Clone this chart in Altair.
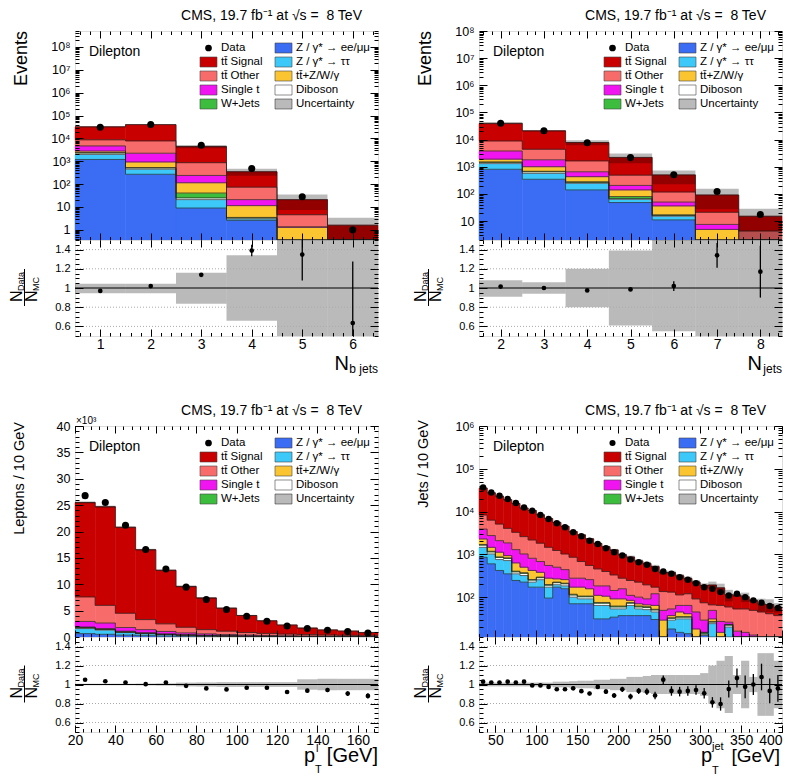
import altair as alt
import numpy as np
import pandas as pd

FONT = "Liberation Sans"
W = 303
HM_TOP, HR_TOP = 209, 96
HM_BOT, HR_BOT = 211, 95
ROW_GAP = 90

# stack order from bottom to top
LAYERS = ["Z/γ* → ee/μμ", "Z/γ* → ττ", "Diboson", "W+Jets", "tt̄+Z/W/γ", "Single t", "tt̄ Other", "tt̄ Signal"]
COLORS = ["#3a6cf4", "#3cc8f8", "#ffffff", "#3dbd3d", "#fbc531", "#f014f0", "#f86b6b", "#c80000"]

LEG_LABELS = ["Data", "tt̄ Signal", "tt̄ Other", "Single t", "W+Jets",
              "Z / γ* → ee/μμ", "Z / γ* → ττ", "tt̄+Z/W/γ", "Diboson", "Uncertainty"]
LEG_FILLS = ["#000000", "#c80000", "#f86b6b", "#f014f0", "#3dbd3d",
             "#3a6cf4", "#3cc8f8", "#fbc531", "#ffffff", "#ffffff"]
LEG_KIND = ["dot", "box", "box", "box", "box", "box", "box", "box", "box", "hatch"]
LEG_COL = [0, 0, 0, 0, 0, 1, 1, 1, 1, 1]
LEG_ROW = [0, 1, 2, 3, 4, 0, 1, 2, 3, 4]

TITLE = "CMS, 19.7 fb⁻¹ at √s =\u00a0 8 TeV"

# ---------------- Panel A: N_b jets (cumulative stack tops) ----------------
A_centers = [1, 2, 3, 4, 5, 6]
A_zll = [1200, 270, 9, 2.6, 0, 0]
A_ztt = [2000, 450, 21, 3.0, 0, 0]
A_dib = [2300, 510, 25, 3.3, 0, 0]
A_wjets = [2400, 530, 41, 3.5, 0, 0]
A_ttv = [2800, 930, 115, 11.5, 1.3, 0]
A_singlet = [4700, 2250, 240, 21, 1.35, 0]
A_ttother = [8700, 7800, 870, 74, 4.6, 0]
A_ttsig = [32000, 40000, 4400, 350, 21, 1.6]
A_data = [31000, 40500, 5000, 487, 28, 1.0]
A_ratio = [0.97, 1.02, 1.137, 1.39, 1.348, 0.635]
A_rerr = [0.006, 0.006, 0.012, 0.06, 0.27, 0.64]
A_unc_dn = [0.957, 0.957, 0.842, 0.66, 0.35, 0.05]
A_unc_up = [1.054, 1.054, 1.165, 1.34, 1.66, 2.1]

# ---------------- Panel B: N_jets ----------------
B_centers = [2, 3, 4, 5, 6, 7, 8]
B_zll = [806, 345, 140, 48, 11, 0, 0]
B_ztt = [1300, 570, 245, 63, 15, 0, 0]
B_dib = [1450, 650, 265, 68, 16, 0, 0]
B_wjets = [1500, 680, 280, 80, 17, 0, 0]
B_ttv = [1900, 1000, 430, 140, 36, 4.9, 0]
B_singlet = [3800, 1800, 650, 205, 50, 7.5, 0]
B_ttother = [8900, 4400, 1640, 490, 117, 21, 4.3]
B_ttsig = [39500, 21000, 7800, 2200, 500, 91, 15]
B_data = [40100, 21000, 7600, 2170, 510, 122, 17.5]
B_ratio = [1.015, 1.0, 0.975, 0.985, 1.02, 1.34, 1.17]
B_rerr = [0.005, 0.006, 0.01, 0.015, 0.05, 0.13, 0.27]
B_unc_dn = [0.92, 0.94, 0.8, 0.61, 0.45, 0.3, 0.1]
B_unc_up = [1.09, 1.06, 1.2, 1.39, 1.45, 1.7, 1.9]

# ---------------- Panel C: lepton pT (x10^3 leptons / 10 GeV) ----------------
C_centers = [25, 35, 45, 55, 65, 75, 85, 95, 105, 115, 125, 135, 145, 155, 165]
C_zll = [0.64, 0.51, 0.36, 0.25, 0.18, 0.13, 0.09, 0.07, 0.05, 0.04, 0.03, 0.02, 0.02, 0.015, 0.01]
C_ztt = [1.6, 1.3, 0.85, 0.6, 0.42, 0.3, 0.22, 0.16, 0.12, 0.09, 0.07, 0.05, 0.04, 0.03, 0.02]
C_dib = [1.75, 1.42, 0.95, 0.68, 0.48, 0.35, 0.26, 0.19, 0.14, 0.11, 0.085, 0.06, 0.05, 0.04, 0.03]
C_wjets = [1.8, 1.46, 0.98, 0.7, 0.5, 0.36, 0.27, 0.2, 0.15, 0.115, 0.09, 0.065, 0.055, 0.045, 0.033]
C_ttv = [1.9, 1.6, 1.1, 0.82, 0.6, 0.44, 0.33, 0.25, 0.19, 0.15, 0.12, 0.09, 0.075, 0.06, 0.045]
C_singlet = [2.95, 2.65, 1.8, 1.4, 1.05, 0.78, 0.6, 0.47, 0.37, 0.3, 0.24, 0.19, 0.15, 0.12, 0.1]
C_ttother = [7.6, 6.0, 4.5, 3.3, 2.5, 1.85, 1.4, 1.1, 0.85, 0.68, 0.55, 0.45, 0.37, 0.31, 0.25]
C_ttsig = [25.5, 24.7, 20.8, 16.55, 12.65, 9.58, 7.4, 5.47, 4.08, 3.08, 2.28, 1.70, 1.35, 1.13, 0.86]
C_data = [26.8, 25.5, 21.2, 16.6, 12.9, 9.45, 7.1, 5.2, 3.94, 2.98, 2.1, 1.59, 1.27, 1.02, 0.76]
C_ratio = [1.05, 1.034, 1.02, 1.003, 1.02, 0.986, 0.959, 0.948, 0.966, 0.966, 0.921, 0.935, 0.942, 0.904, 0.88]
C_rerr = [0.007, 0.007, 0.007, 0.008, 0.009, 0.01, 0.011, 0.012, 0.014, 0.016, 0.018, 0.02, 0.022, 0.025, 0.028]
C_unc = [0.008, 0.008, 0.008, 0.01, 0.012, 0.02, 0.022, 0.025, 0.025, 0.025, 0.025, 0.055, 0.06, 0.06, 0.06]

# ---------------- Panel D: jet pT ----------------
D_centers = [35, 45, 55, 65, 75, 85, 95, 105, 115, 125, 135, 145, 155, 165, 175, 185, 195, 205, 215,
             225, 235, 245, 255, 265, 275, 285, 295, 305, 315, 325, 335, 345, 355, 365, 375, 385, 395]
D_zll = [855, 600, 420, 350, 245, 224, 171, 171, 95, 171, 157, 70, 70, 70, 31, 31, 34, 37, 37, 37,
         37, 30, 0, 18, 15, 14, 0, 13, 0, 0, 0, 0, 0, 0, 0, 0, 0]
D_ztt = [1460, 1020, 755, 715, 350, 320, 224, 255, 171, 195, 183, 100, 91, 91, 64, 64, 53, 53, 64, 53,
         51, 45, 0, 29, 31, 31, 0, 13, 24, 0, 20, 0, 0, 0, 0, 0, 0]
D_dib = [1640, 1140, 845, 800, 390, 360, 250, 285, 190, 218, 205, 112, 102, 102, 72, 72, 59, 59, 72, 59,
         57, 50, 0, 32, 34, 34, 0, 14, 26, 0, 22, 0, 0, 0, 0, 0, 0]
D_wjets = [1700, 1180, 875, 830, 405, 372, 258, 295, 197, 225, 212, 117, 106, 106, 75, 75, 62, 62, 75, 62,
           60, 52, 0, 33, 35, 35, 0, 15, 27, 0, 23, 0, 0, 0, 0, 0, 0]
D_ttv = [2290, 1460, 1120, 935, 630, 500, 420, 380, 277, 267, 257, 171, 171, 157, 110, 105, 91, 91, 84, 70,
         66, 64, 29, 37, 45, 41, 18, 15, 31, 15, 23, 0, 0, 0, 0, 0, 0]
D_singlet = [3900, 2750, 2090, 1850, 1290, 1020, 810, 680, 550, 500, 440, 277, 277, 257, 183, 183, 143, 157, 110, 100,
             91, 120, 49, 53, 64, 64, 45, 29, 49, 27, 26, 16, 15, 13, 0, 0, 0]
D_ttother = [8300, 6300, 5100, 4050, 3270, 2600, 2170, 1820, 1460, 1230, 1020, 855, 680, 550, 457, 397, 330, 277, 245, 224,
             194, 171, 135, 131, 113, 120, 91, 74, 66, 64, 59, 53, 53, 49, 45, 41, 37]
D_ttsig = [35500, 27450, 22900, 19000, 15500, 12100, 10600, 8400, 6870, 5580, 4530, 3400, 2850, 2310, 1795, 1503, 1267, 985, 865, 703,
           614, 517, 378, 376, 316, 273, 225, 188, 192, 165, 114, 112, 102, 84, 69, 67, 58]
D_data = [36600, 28000, 23400, 19600, 15800, 12500, 10500, 8300, 6700, 5300, 4300, 3270, 2650, 2090, 1750, 1390, 1120, 935, 755, 655,
          568, 457, 397, 350, 292, 254, 212, 171, 156, 131, 109, 120, 100, 84, 74, 62, 56]
D_ratio = [1.03, 1.02, 1.02, 1.03, 1.02, 1.03, 0.99, 0.99, 0.975, 0.95, 0.95, 0.96, 0.93, 0.905, 0.975, 0.925, 0.884, 0.949, 0.873, 0.932,
           0.925, 0.884, 1.051, 0.932, 0.925, 0.932, 0.942, 0.908, 0.812, 0.795, 0.952, 1.068, 0.976, 1.0, 1.079, 0.932, 0.959]
D_rerr = [0.006, 0.006, 0.006, 0.007, 0.008, 0.009, 0.01, 0.011, 0.012, 0.013, 0.015, 0.017, 0.018, 0.02, 0.022, 0.024, 0.026, 0.028, 0.03, 0.032,
          0.035, 0.04, 0.045, 0.05, 0.05, 0.05, 0.05, 0.055, 0.055, 0.07, 0.09, 0.1, 0.12, 0.11, 0.14, 0.13, 0.14]
D_unc = [0.02, 0.02, 0.02, 0.02, 0.02, 0.02, 0.02, 0.02, 0.02, 0.03, 0.03, 0.035, 0.04, 0.04, 0.05, 0.05, 0.06, 0.06, 0.08, 0.08,
         0.09, 0.1, 0.1, 0.1, 0.1, 0.1, 0.1, 0.12, 0.2, 0.25, 0.3, 0.1, 0.25, 0.08, 0.33, 0.33, 0.25]

SUP = "['⁰','¹','²','³','⁴','⁵','⁶','⁷','⁸','⁹']"
LOG_LABELS = ("datum.value < 5 ? '1' : (datum.value < 50 ? '10' : '10' + " + SUP +
              "[round(log(datum.value)/LN10)])")

ONE = alt.Data(values=[{}])
HATCH_OPACITY = 0.27


def log_minor(lo, hi):
    vals = []
    for e in range(-2, 10):
        for m in range(2, 10):
            v = m * 10.0 ** e
            if lo <= v <= hi:
                vals.append(v)
    return vals


def lin_ticks(lo, hi, step):
    k0 = int(np.ceil(lo / step - 1e-9))
    k1 = int(np.floor(hi / step + 1e-9))
    return [round(k * step, 6) for k in range(k0, k1 + 1)]


def txt(text, x, y, size, align="left", baseline="alphabetic", angle=0, color="black"):
    kw = dict(text=text, align=align, baseline=baseline, fontSize=size, font=FONT, color=color)
    if angle:
        kw["angle"] = angle
    return alt.Chart(ONE).mark_text(**kw).encode(x=alt.value(x), y=alt.value(y))


def tick_axis(orient, vals, size):
    return alt.Axis(orient=orient, values=vals, labels=False, ticks=True, tickSize=size, offset=-size,
                    domain=False, grid=False, title=None, tickColor="black", tickWidth=1, zindex=2)


def tick_layers(df, xf, yf, xscale, yscale, xmaj, xmin, ymaj, ymin, xs=7, ys=8):
    out = []
    for xo, xv, xl, yo, yv, yl in [("top", xmaj, xs, "right", ymaj, ys),
                                   ("top", xmin, xs / 2, "right", ymin, ys / 2),
                                   ("bottom", xmin, xs / 2, "left", ymin, ys / 2)]:
        out.append(alt.Chart(df).mark_point(opacity=0).encode(
            x=alt.X(xf, type="quantitative", scale=xscale, axis=tick_axis(xo, xv, xl), title=None),
            y=alt.Y(yf, type="quantitative", scale=yscale, axis=tick_axis(yo, yv, yl), title=None)))
    return out


def legend_layers(dot_size):
    df = pd.DataFrame({"label": LEG_LABELS, "fill": LEG_FILLS, "kind": LEG_KIND,
                       "col": LEG_COL, "row": LEG_ROW})
    base = alt.Chart(df).transform_calculate(
        lx="125 + 75 * datum.col", ly="17 + 14 * datum.row"
    ).transform_calculate(
        lx2="datum.lx + 17", ly1="datum.ly - 5", ly2="datum.ly + 5",
        tx="datum.lx + 21", cx="datum.lx + 8.5")
    px = lambda f: alt.X(f, type="quantitative", scale=None, axis=None)
    py = lambda f: alt.Y(f, type="quantitative", scale=None, axis=None)
    boxes = base.transform_filter("datum.kind != 'dot'").mark_rect(
        stroke="#444", strokeWidth=0.6).encode(
        x=px("lx"), x2="lx2:Q", y=py("ly1"), y2="ly2:Q", fill=alt.Fill("fill:N", scale=None))
    hatch = base.transform_filter("datum.kind == 'hatch'").mark_rect(
        color="black", opacity=HATCH_OPACITY).encode(x=px("lx"), x2="lx2:Q", y=py("ly1"), y2="ly2:Q")
    dot = base.transform_filter("datum.kind == 'dot'").mark_circle(
        size=dot_size, color="black", opacity=1).encode(x=px("cx"), y=py("ly"))
    labels = base.mark_text(align="left", baseline="middle", fontSize=11.5, font=FONT,
                            color="black").encode(x=px("tx"), y=py("ly"), text="label:N")
    return [boxes, hatch, dot, labels]


def make_panel(centers, halfw, tops, data, ratio, rerr, unc_dn, unc_up, cfg):
    HM, HR = cfg["hm"], cfg["hr"]
    n = len(centers)
    x0 = [c - halfw for c in centers]
    x1 = [c + halfw for c in centers]
    floor = cfg["floor"]
    srows, lrows = [], []
    prev = np.full(n, floor, dtype=float)
    for name, top in zip(LAYERS, tops):
        t = np.maximum(np.maximum(np.array(top, dtype=float), floor), prev)
        for i in range(n):
            srows.append({"x0": x0[i], "x1": x1[i], "layer": name, "lo": prev[i], "hi": t[i]})
            lrows.append({"x": x0[i], "y": t[i], "layer": name})
        lrows.append({"x": x1[-1], "y": t[-1], "layer": name})
        prev = t
    total = prev
    df_stack = pd.DataFrame(srows)
    df_line = pd.DataFrame(lrows)
    up = np.array(unc_up)
    dn = np.array(unc_dn)
    df_bins = pd.DataFrame({
        "c": centers, "x0": x0, "x1": x1, "data": data,
        "blo": np.maximum(total * dn, floor), "bhi": total * up,
        "ratio": ratio,
        "elo": np.array(ratio) - np.array(rerr), "ehi": np.array(ratio) + np.array(rerr),
        "rlo": 1 - (up - 1), "rhi": 1 + (1 - dn)})

    xscale = alt.Scale(domain=cfg["xdom"], nice=False, zero=False)
    if cfg["log"]:
        yscale = alt.Scale(type="log", domain=cfg["ydom"], clamp=True, nice=False)
        ylab = LOG_LABELS
        yminor = log_minor(*cfg["ydom"])
    else:
        yscale = alt.Scale(domain=cfg["ydom"], clamp=True, nice=False, zero=True)
        ylab = "datum.label"
        yminor = lin_ticks(cfg["ydom"][0], cfg["ydom"][1], cfg["yminor"])
    xminor = lin_ticks(cfg["xdom"][0], cfg["xdom"][1], cfg["xminor"])

    xaxis_main = alt.Axis(orient="bottom", values=cfg["xticks"], labels=False, ticks=True, tickSize=7,
                          offset=-7, domain=False, grid=False, title=None, tickColor="black", zindex=2)
    yaxis_main = alt.Axis(orient="left", values=cfg["yticks"], labelExpr=ylab, tickSize=8, offset=-8,
                          labelPadding=5, domain=False, grid=False, title=None, labelFontSize=12.5,
                          tickColor="black", labelColor="black", labelFont=FONT, zindex=2)

    X = lambda f, ax=None: alt.X(f, type="quantitative", scale=xscale, axis=ax, title=None)
    Y = lambda f, ax=None: alt.Y(f, type="quantitative", scale=yscale, axis=ax, title=None)
    cscale = alt.Scale(domain=LAYERS, range=COLORS)

    rects = alt.Chart(df_stack).mark_rect(strokeWidth=0.5).encode(
        x=X("x0", xaxis_main), x2="x1:Q", y=Y("hi", yaxis_main), y2="lo:Q",
        color=alt.Color("layer:N", scale=cscale, legend=None),
        stroke=alt.Stroke("layer:N", scale=cscale, legend=None))
    lines = alt.Chart(df_line).mark_line(interpolate="step-after", color="#222",
                                         strokeWidth=0.7).encode(
        x=X("x"), y=Y("y"), detail="layer:N")
    band = alt.Chart(df_bins).mark_rect(color="black", opacity=HATCH_OPACITY).encode(
        x=X("x0"), x2="x1:Q", y=Y("bhi"), y2="blo:Q")
    pts = alt.Chart(df_bins).mark_circle(size=cfg["dot"], color="black", opacity=1).encode(
        x=X("c"), y=Y("data"))
    mticks = tick_layers(df_bins, "c", "data", xscale, yscale, cfg["xticks"], xminor,
                         cfg["yticks"], yminor)

    ann = [txt(TITLE, W - 16, -11, 14, align="right"),
           txt("Dilepton", 14, 25, 14),
           txt(cfg["ytitle"], -62, cfg["ytitle_y"], cfg["ytitle_size"], align="right",
               baseline="top", angle=270)]
    if cfg.get("mult"):
        ann.append(txt("×10³", 1, -2, 10))
    main = alt.layer(rects, lines, band, pts, *mticks, *legend_layers(cfg["dot"] - 5), *ann).properties(
        width=W, height=HM).resolve_axis(x="independent", y="independent")

    # ---- ratio panel ----
    rscale = alt.Scale(domain=[0.5, 1.5], nice=False, zero=False)
    xaxis_r = alt.Axis(orient="bottom", values=cfg["xticks"], labels=True, ticks=True, tickSize=7,
                       offset=-7, labelPadding=1, domain=False, grid=False, title=None, labelFontSize=14,
                       tickColor="black", labelColor="black", labelFont=FONT,
                       labelFlush=cfg.get("flush", False), format="d", zindex=2)
    yaxis_r = alt.Axis(orient="left", values=[0.6, 0.8, 1.0, 1.2, 1.4], format="~g", tickSize=8, offset=-8,
                       labelPadding=5, domain=False, grid=False, title=None, labelFontSize=11,
                       tickColor="black", labelColor="black", labelFont=FONT, zindex=2)
    RX = lambda f, ax=None: alt.X(f, type="quantitative", scale=xscale, axis=ax, title=None)
    RY = lambda f, ax=None: alt.Y(f, type="quantitative", scale=rscale, axis=ax, title=None)

    grid = alt.Chart(pd.DataFrame({"g": [0.6, 0.8, 1.2, 1.4]})).mark_rule(
        color="#aaaaaa", strokeDash=[1, 2], strokeWidth=1).encode(y=RY("g"))
    rband = alt.Chart(df_bins).mark_rect(color="black", opacity=HATCH_OPACITY, clip=True).encode(
        x=RX("x0", xaxis_r), x2="x1:Q", y=RY("rhi", yaxis_r), y2="rlo:Q")
    one = alt.Chart(pd.DataFrame({"g": [1.0]})).mark_rule(color="black", strokeWidth=1).encode(
        y=RY("g"))
    ebars = alt.Chart(df_bins).mark_rule(color="black", strokeWidth=1.3, clip=True).encode(
        x=RX("c"), y=RY("elo"), y2="ehi:Q")
    rpts = alt.Chart(df_bins).mark_circle(size=22, color="black", opacity=1, clip=True).encode(
        x=RX("c"), y=RY("ratio"))
    rticks = tick_layers(df_bins, "c", "ratio", xscale, rscale, cfg["xticks"], xminor,
                         [0.6, 0.8, 1.0, 1.2, 1.4], lin_ticks(0.5, 1.5, 0.05), xs=7, ys=8)
    cy = HR / 2
    frac = [txt("N", -58, cy + 14, 16, baseline="middle", angle=270),
            txt("Data", -54, cy + 3, 9, baseline="middle", angle=270),
            alt.Chart(ONE).mark_rule(color="black", strokeWidth=1).encode(
                x=alt.value(-50.5), y=alt.value(cy - 19), y2=alt.value(cy + 18)),
            txt("N", -43, cy + 14, 16, baseline="middle", angle=270),
            txt("MC", -39, cy + 3, 9, baseline="middle", angle=270)]
    xt = [txt(t, x, HR + dy, s, align=a) for (t, x, dy, s, a) in cfg["xtitle"]]
    ratio_chart = alt.layer(rband, grid, one, ebars, rpts, *rticks, *frac, *xt).properties(
        width=W, height=HR).resolve_axis(x="independent", y="independent")

    return main, ratio_chart


mA, rA = make_panel(A_centers, 0.5,
                    [A_zll, A_ztt, A_dib, A_wjets, A_ttv, A_singlet, A_ttother, A_ttsig],
                    A_data, A_ratio, A_rerr, A_unc_dn, A_unc_up,
                    dict(hm=HM_TOP, hr=HR_TOP, floor=0.1, log=True, ydom=[0.36, 5e8], xdom=[0.5, 6.5],
                         xticks=[1, 2, 3, 4, 5, 6],
                         xminor=0.2, yticks=[1, 10, 1e2, 1e3, 1e4, 1e5, 1e6, 1e7, 1e8], dot=50,
                         ytitle="Events", ytitle_y=0, ytitle_size=18,
                         xtitle=[("N", W - 29, 34, 20, "right"), ("b jets", W, 37, 12, "right")]))

mB, rB = make_panel(B_centers, 0.5,
                    [B_zll, B_ztt, B_dib, B_wjets, B_ttv, B_singlet, B_ttother, B_ttsig],
                    B_data, B_ratio, B_rerr, B_unc_dn, B_unc_up,
                    dict(hm=HM_TOP, hr=HR_TOP, floor=0.5, log=True, ydom=[2.0, 1e8], xdom=[1.5, 8.5],
                         xticks=[2, 3, 4, 5, 6, 7, 8],
                         xminor=0.2, yticks=[10, 1e2, 1e3, 1e4, 1e5, 1e6, 1e7, 1e8], dot=50,
                         ytitle="Events", ytitle_y=0, ytitle_size=18,
                         xtitle=[("N", W - 20, 34, 20, "right"), ("jets", W, 37, 12, "right")]))

C_dn = [1 - u for u in C_unc]
C_up = [1 + u for u in C_unc]
mC, rC = make_panel(C_centers, 5.0,
                    [C_zll, C_ztt, C_dib, C_wjets, C_ttv, C_singlet, C_ttother, C_ttsig],
                    C_data, C_ratio, C_rerr, C_dn, C_up,
                    dict(hm=HM_BOT, hr=HR_BOT, floor=0.0, log=False, ydom=[0, 40], xdom=[20, 170],
                         xticks=[20, 40, 60, 80, 100, 120, 140, 160], xminor=4, yminor=1,
                         yticks=[0, 5, 10, 15, 20, 25, 30, 35, 40], dot=50, mult=True,
                         ytitle="Leptons / 10 GeV", ytitle_y=-4, ytitle_size=14.5,
                         xtitle=[("p", W - 63, 30, 20, "right"), ("l", W - 62, 20, 11, "left"),
                                 ("T", W - 63, 41, 11, "left"), ("[GeV]", W, 30, 20, "right")]))

D_dn = [1 - u for u in D_unc]
D_up = [1 + u for u in D_unc]
mD, rD = make_panel(D_centers, 5.0,
                    [D_zll, D_ztt, D_dib, D_wjets, D_ttv, D_singlet, D_ttother, D_ttsig],
                    D_data, D_ratio, D_rerr, D_dn, D_up,
                    dict(hm=HM_BOT, hr=HR_BOT, floor=5.0, log=True, ydom=[11.7, 1e6], xdom=[30, 400],
                         xticks=[50, 100, 150, 200, 250, 300, 350, 400], xminor=10,
                         yticks=[1e2, 1e3, 1e4, 1e5, 1e6], dot=42, flush=True,
                         ytitle="Jets / 10 GeV", ytitle_y=-6, ytitle_size=14.5,
                         xtitle=[("p", W - 70, 30, 20, "right"), ("jet", W - 70, 18, 11, "left"),
                                 ("T", W - 70, 42, 11, "left"), ("[GeV]", W - 2, 30, 19, "right")]))


def spacer():
    return alt.Chart(ONE).mark_point(opacity=0).encode(
        x=alt.value(0), y=alt.value(0)).properties(
        width=W, height=ROW_GAP, view=alt.ViewBackground(stroke="transparent"))


chart = alt.concat(
    mA, mB, rA, rB, spacer(), spacer(), mC, mD, rC, rD,
    columns=2, spacing=alt.RowColnumber(row=0, column=101), bounds="flush", padding=0,
).configure_view(stroke="black", strokeWidth=1).configure(background="white")

chart.save("out.html", embed_options={"renderer": "svg", "actions": False})
